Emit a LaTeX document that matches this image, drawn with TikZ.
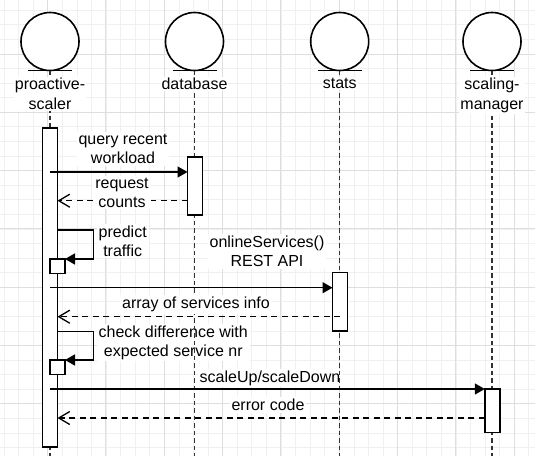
\documentclass[tikz,border=0pt]{standalone}
\usepackage{fontspec}
\setmainfont{Liberation Sans}
\usetikzlibrary{positioning,arrows.meta}

\begin{document}
\begin{tikzpicture}[
    x=1pt, y=-1pt,
    font=\fontsize{16}{19}\selectfont,
    actor/.style={circle, draw=black, line width=1.6pt, fill=white, minimum size=58pt, inner sep=0pt, outer sep=0pt},
    actorbase/.style={draw=black, line width=1.5pt},
    actorname/.style={fill=white, align=center, inner sep=1pt, font=\fontsize{16}{20}\selectfont},
    lifeline/.style={draw=black!80, line width=1.5pt, dash pattern=on 4.5pt off 3pt},
    actbox/.style={rectangle, draw=black, fill=white, line width=1.5pt, minimum width=15pt, inner sep=0pt, outer sep=0pt, anchor=north},
    call/.style={draw=black, line width=1.5pt, -{Triangle[length=10pt,width=11pt]}},
    reply/.style={draw=black, line width=1.3pt, dash pattern=on 6pt off 4.5pt, -{Straight Barb[length=11pt,width=13pt]}},
    msglabel/.style={fill=white, align=center, inner sep=2pt},
    minorgrid/.style={draw=black!6, line width=1pt},
    majorgrid/.style={draw=black!13, line width=1pt}
    ]
        \useasboundingbox (0,0) rectangle (535,456);

        %Grid
        \foreach \i in {0,...,36}
            \draw[minorgrid] (4.1+14.58*\i,0) -- (4.1+14.58*\i,456);
        \foreach \j in {0,...,30}
            \draw[minorgrid] (0,10.3+14.58*\j) -- (535,10.3+14.58*\j);
        \foreach \i in {-1,...,8}
            \draw[majorgrid] (47.6+58.3*\i,0) -- (47.6+58.3*\i,456);
        \foreach \j in {-1,...,7}
            \draw[majorgrid] (0,54+58.3*\j) -- (535,54+58.3*\j);

        %Nodes
        \node[actor]    (ps)    at (50,41.5)    {};
        \node[actor]    (db)    at (194.5,41.5) {};
        \node[actor]    (st)    at (339.7,41.5) {};
        \node[actor]    (sm)    at (492,41.5)   {};

        \node[msglabel, anchor=west]
            (chklbl)    at (96.5,342.5) {check difference with\\expected service nr};
        \node[msglabel]
            (scllbl)    at (270,378)    {scaleUp/scaleDown};

        %Lifelines
        \foreach \a in {ps,db,st,sm} {
            \draw[actorbase] ([xshift=-22pt]\a.south) -- ([xshift=22pt]\a.south);
            \draw[lifeline] (\a.south) -- (\a.south |- 0,456);
        }

        \node[actorname]
            (psname)    [below=6.5pt of ps]   {proactive-\\scaler};
        \node[actorname]
            (dbname)    [below=6.5pt of db]   {database};
        \node[actorname]
            (stname)    [below=6.5pt of st]   {stats};
        \node[actorname]
            (smname)    [below=6.5pt of sm]   {scaling-\\manager};

        %Activations
        \node[actbox, minimum height=319pt]
            (psbox)     at (ps |- 0,128)        {};
        \node[actbox, minimum height=58pt]
            (dbbox)     at (195,157)            {};
        \node[actbox, minimum height=14.3pt]
            (prbox)     at (psbox.east |- 0,259) {};
        \node[actbox, minimum height=58.3pt]
            (stbox)     at (340,272.7)          {};
        \node[actbox, minimum height=14.3pt]
            (chbox)     at (psbox.east |- 0,360) {};
        \node[actbox, minimum height=43.3pt]
            (smbox)     at (492.3,389)          {};

        %Lines
        \draw[call]
            (psbox.center |- 0,172) -- (dbbox.west |- 0,172);
        \draw[reply]
            (dbbox.west |- 0,200.7) -- (psbox.east |- 0,200.7);
        \draw[call]
            (psbox.east |- 0,230) -- ++(36,0) |- (prbox.north east);
        \draw[call]
            (psbox.center |- 0,287.7) -- (stbox.west |- 0,287.7);
        \draw[reply]
            (stbox.center |- 0,316.7) -- (psbox.east |- 0,316.7);
        \draw[call]
            (psbox.east |- 0,331.7) -- ++(36,0) |- (chbox.north east);
        \draw[call]
            (psbox.center |- 0,389) -- (smbox.west |- 0,389);
        \draw[reply]
            (smbox.west |- 0,418) -- (psbox.east |- 0,418);

        %Labels
        \node[msglabel]
            (qrylbl)    at (123,149)    {query recent\\workload};
        \node[msglabel]
            (reqlbl)    at (122,192.5)  {request\\counts};
        \node[msglabel, anchor=west]
            (prdlbl)    at (96.5,241)   {predict\\traffic};
        \node[msglabel]
            (onllbl)    at (267,251.3)  {onlineServices()\\REST API};
        \node[msglabel]
            (arrlbl)    at (196,304.5)  {array of services info};
        \node[msglabel]
            (errlbl)    at (268,405)    {error code};
    \end{tikzpicture}
\end{document}
